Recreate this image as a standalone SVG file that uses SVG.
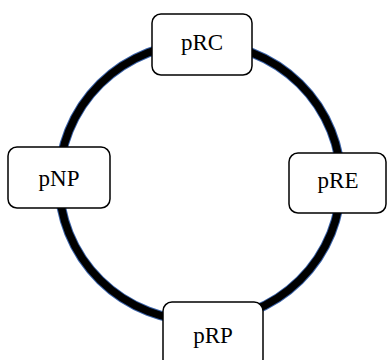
<svg xmlns="http://www.w3.org/2000/svg" width="387" height="360" viewBox="0 0 387 360">
<style>
.node rect{fill:#fff;stroke:#000;stroke-width:1.5}
.node text{font-family:"Liberation Serif","Times New Roman",serif;font-size:23px;fill:#000;text-anchor:middle}
.ring-out{fill:none;stroke:#3a62a8;stroke-width:9.5}
.ring-in{fill:none;stroke:#000;stroke-width:7.5}
</style>
<rect width="387" height="360" fill="#fff"/>
<g id="connectors">
<ellipse class="ring-out" cx="200" cy="182" rx="141" ry="139"/>
<ellipse class="ring-in" cx="200" cy="182" rx="141" ry="139"/>
</g>
<g id="pRC" class="node"><rect x="152" y="14" width="100" height="61" rx="9"/><text x="202" y="50">pRC</text></g>
<g id="pNP" class="node"><rect x="8" y="147" width="102" height="61" rx="9"/><text x="59" y="186">pNP</text></g>
<g id="pRE" class="node"><rect x="289" y="153" width="97" height="60" rx="9"/><text x="338" y="188">pRE</text></g>
<g id="pRP" class="node"><rect x="163" y="302" width="100" height="66" rx="9"/><text x="213" y="343">pRP</text></g>
</svg>
